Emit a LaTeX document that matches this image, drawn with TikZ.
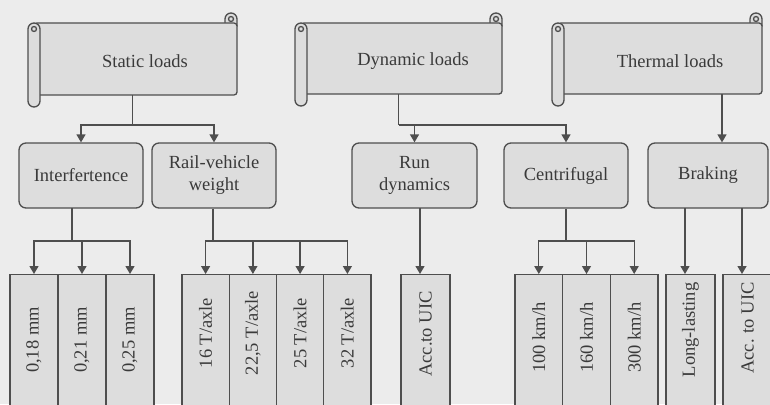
\documentclass[tikz,border=0pt]{standalone}
\usepackage{fontspec}
\setmainfont{Liberation Serif}
\usetikzlibrary{arrows.meta}
\definecolor{bgc}{RGB}{236,236,236}
\definecolor{boxc}{RGB}{221,221,221}
\definecolor{linec}{RGB}{78,78,78}
\definecolor{txtc}{RGB}{58,58,58}
\newcommand{\drawscroll}[4]{%
  \draw[scrl] (#2-12,#3+3) -- (#2-12,#3-4) arc (180:360:6) -- (#2,#3+3) -- cycle;
  \draw[scrl, rounded corners=3pt] (#1+6,#3) rectangle (#2,#4);
  \draw[scrl] (#1,#3+6) arc (180:360:6) -- (#1+12,#4+6) arc (0:180:6) -- cycle;
  \draw[scrl] (#1+6,#3+6) circle (2.5);
  \draw[scrl] (#2-6,#3-4) circle (2.5);
}
\begin{document}
\begin{tikzpicture}[x=1pt,y=-1pt,
  scrl/.style={draw=linec, line width=1.3pt, fill=boxc},
  ttl/.style={text=txtc, font=\fontsize{18.5}{22}\selectfont, inner sep=0},
  lvlbox/.style={draw=linec, line width=1.3pt, fill=boxc, rounded corners=7pt,
     minimum height=65pt, inner sep=0, align=center, text=txtc,
     font=\fontsize{18.5}{22}\selectfont},
  cell/.style={draw=linec, line width=1.3pt, fill=boxc, inner sep=0,
     minimum height=140pt, anchor=north},
  vtxt/.style={rotate=90, text=txtc, font=\fontsize{18.5}{22}\selectfont, inner sep=0},
  conn/.style={draw=linec, line width=1.3pt},
  arr/.style={draw=linec, line width=1.3pt, -{Triangle[length=8pt,width=9pt]}}]
\clip (0,0) rectangle (770,404);
\fill[bgc] (0,0) rectangle (770,404);

% ---- top scrolls ----
\drawscroll{28}{237}{23}{95}
\drawscroll{295}{502}{23}{94}
\drawscroll{552}{762}{23}{94}
\node[inner sep=0, minimum width=209pt, minimum height=72pt] (s1) at (132.5,59) {};
\node[inner sep=0, minimum width=207pt, minimum height=71pt] (s2) at (398.5,58.5) {};
\node[inner sep=0, minimum width=210pt, minimum height=71pt] (s3) at (657,58.5) {};
\node[ttl] (t1) at (145,61) {Static loads};
\node[ttl] (t2) at (413,61) {Dynamic loads};
\node[ttl] (t3) at (670,61) {Thermal loads};

% ---- second row ----
\node[lvlbox, minimum width=124pt] (interf) at (81,175.5) {Interfertence};
\node[lvlbox, minimum width=124pt] (rail) at (214,175.5) {Rail-vehicle\\weight};
\node[lvlbox, minimum width=125pt] (run) at (414.5,175.5) {Run\\dynamics};
\node[lvlbox, minimum width=124pt] (centr) at (566,175.5) {Centrifugal};
\node[lvlbox, minimum width=120pt] (brk) at (708,175.5) {Braking};

% ---- bottom cells ----
\node[cell, minimum width=48pt] (c1) at (34,274) {};
\node[cell, minimum width=48pt] (c2) at (82,274) {};
\node[cell, minimum width=48pt] (c3) at (130,274) {};
\node[cell, minimum width=47.25pt] (c4) at (205.6,274) {};
\node[cell, minimum width=47.25pt] (c5) at (252.9,274) {};
\node[cell, minimum width=47.25pt] (c6) at (300.1,274) {};
\node[cell, minimum width=47.25pt] (c7) at (347.4,274) {};
\node[cell, minimum width=49pt] (c8) at (425.5,274) {};
\node[cell, minimum width=47.67pt] (c9) at (538.8,274) {};
\node[cell, minimum width=47.67pt] (c10) at (586.5,274) {};
\node[cell, minimum width=47.67pt] (c11) at (634.2,274) {};
\node[cell, minimum width=49pt] (c12) at (690.5,274) {};
\node[cell, minimum width=49pt] (c13) at (747.5,274) {};

\node[vtxt] (v1) at (34,340) {0,18 mm};
\node[vtxt] (v2) at (82,340) {0,21 mm};
\node[vtxt] (v3) at (130,340) {0,25 mm};
\node[vtxt] (v4) at (205.6,333) {16 T/axle};
\node[vtxt] (v5) at (252.9,333) {22,5 T/axle};
\node[vtxt] (v6) at (300.1,333) {25 T/axle};
\node[vtxt] (v7) at (347.4,333) {32 T/axle};
\node[vtxt] (v8) at (425.5,334) {Acc.to UIC};
\node[vtxt] (v9) at (538.8,337.5) {100 km/h};
\node[vtxt] (v10) at (586.5,337.5) {160 km/h};
\node[vtxt] (v11) at (634.2,337.5) {300 km/h};
\node[vtxt] (v12) at (690.5,330) {Long-lasting};
\node[vtxt] (v13) at (747.5,328) {Acc. to UIC};

% ---- connectors level 1 -> 2 ----
\coordinate (b1) at (132.5,125);
\draw[conn] (s1.south) -- (b1);
\draw[arr] (b1) -| (interf.north);
\draw[arr] (b1) -| (rail.north);
\coordinate (b2) at (398.5,125);
\draw[conn] (s2.south) -- (b2);
\draw[arr] (b2) -| (centr.north);
\draw[arr] (b2 -| run.north) -- (run.north);
\coordinate (s3p) at (722,94);
\draw[arr] (s3p) -- (s3p |- brk.north);

% ---- connectors level 2 -> 3 ----
\coordinate (i1) at (72,208);
\coordinate (ib) at (72,241);
\draw[conn] (i1) -- (ib);
\draw[arr] (ib) -| (c1.north);
\draw[arr] (ib) -| (c2.north);
\draw[arr] (ib) -| (c3.north);
\coordinate (rb) at (213,241);
\draw[conn] (rail.south -| rb) -- (rb);
\draw[arr] (rb) -| (c4.north);
\draw[arr] (rb) -| (c5.north);
\draw[arr] (rb) -| (c6.north);
\draw[arr] (rb) -| (c7.north);
\coordinate (ru) at (420,208);
\draw[arr] (ru) -- (ru |- c8.north);
\coordinate (cb) at (566,241);
\draw[conn] (centr.south) -- (cb);
\draw[arr] (cb) -| (c9.north);
\draw[arr] (cb) -| (c10.north);
\draw[arr] (cb) -| (c11.north);
\coordinate (k1) at (685,208);
\coordinate (k2) at (742,208);
\draw[arr] (k1) -- (k1 |- c12.north);
\draw[arr] (k2) -- (k2 |- c13.north);
\end{tikzpicture}
\end{document}
